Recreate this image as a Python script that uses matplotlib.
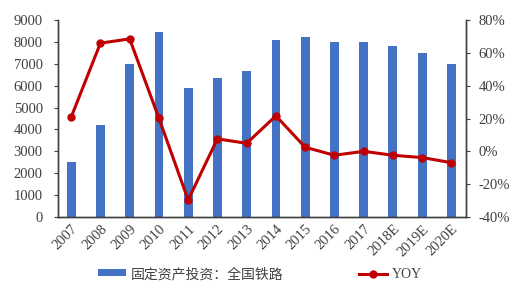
import matplotlib
matplotlib.use("Agg")
import matplotlib.pyplot as plt
import numpy as np
from matplotlib.ticker import FuncFormatter

anos = ["2007", "2008", "2009", "2010", "2011", "2012", "2013", "2014",
        "2015", "2016", "2017", "2018E", "2019E", "2020E"]
investimento = [2520, 4190, 7000, 8430, 5910, 6340, 6650, 8090,
                8240, 8015, 8010, 7820, 7500, 7000]
yoy = [20.8, 65.9, 68.5, 20.2, -29.6, 7.6, 4.9, 21.6,
       2.5, -2.4, 0.0, -2.4, -3.8, -6.9]

plt.rcParams['font.family'] = ['Liberation Serif', 'Noto Sans CJK SC']
cor_txt = '#404040'

fig = plt.figure(figsize=(5.2, 2.88), dpi=100)
ax1 = fig.add_axes([58/520, 1 - 217/288, (466-58)/520, (217-20)/288])
ax2 = ax1.twinx()

x = np.arange(len(anos))
ax1.bar(x, investimento, width=0.3, color='#4472C4', label='固定资产投资：全国铁路')
ax2.plot(x, yoy, color='#C00000', lw=2.2, marker='o', ms=5, label='YOY')

ax1.set_xlim(-0.45, 13.5)
ax1.set_ylim(0, 9000)
ax1.set_yticks(range(0, 9001, 1000))
ax2.set_ylim(-40, 80)
ax2.set_yticks(range(-40, 81, 20))
ax2.yaxis.set_major_formatter(FuncFormatter(lambda v, p: f"{int(v)}%"))

ax1.set_xticks(x)
ax1.set_xticklabels(anos, rotation=45, ha='right', rotation_mode='anchor')

for ax in (ax1, ax2):
    ax.spines['top'].set_visible(False)
    for s in ('left', 'right', 'bottom'):
        ax.spines[s].set_color('#404040')
        ax.spines[s].set_linewidth(1.0)
    ax.tick_params(labelsize=10.5, colors=cor_txt, length=3)
ax1.tick_params(axis='y', pad=8)
ax2.tick_params(axis='y', pad=6)
ax1.tick_params(axis='x', length=0, pad=4)

h1, l1 = ax1.get_legend_handles_labels()
h2, l2 = ax2.get_legend_handles_labels()
fig.legend(h1 + h2, l1 + l2, loc='center', bbox_to_anchor=(0.5, 1 - 274/288),
           ncol=2, frameon=False, fontsize=10, labelcolor=cor_txt,
           columnspacing=5.5, handlelength=2.0, handleheight=0.4, handletextpad=0.3)

plt.savefig("out.png", dpi=100)
plt.close()
